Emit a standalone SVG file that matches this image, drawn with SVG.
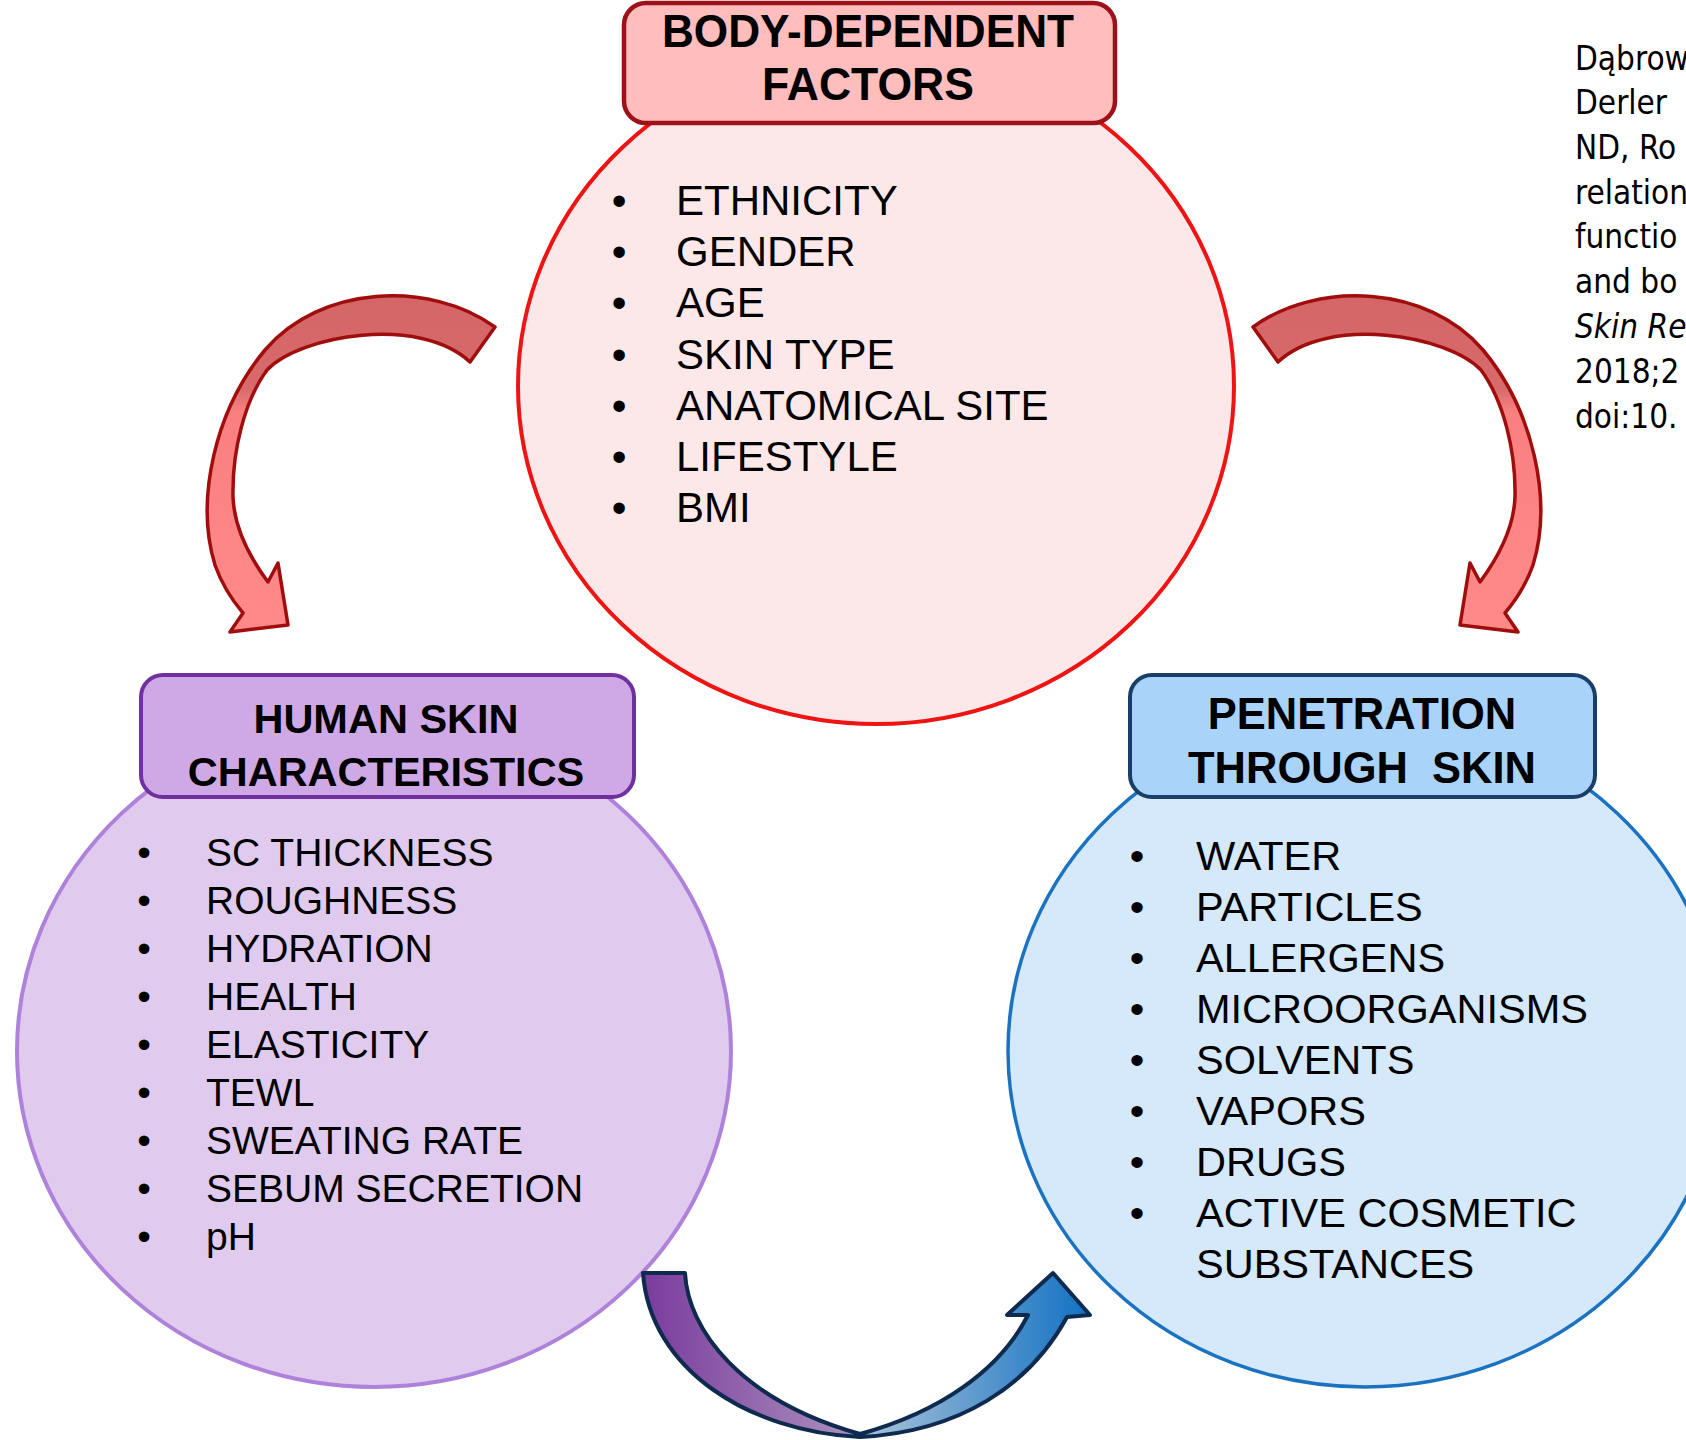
<svg xmlns="http://www.w3.org/2000/svg" width="1686" height="1440" viewBox="0 0 1686 1440">
<style>
.hdr{font-family:"Liberation Sans",Arial,sans-serif;font-weight:bold;fill:#000;text-anchor:middle}
.item{font-family:"Liberation Sans",Arial,sans-serif;fill:#000}
.bul{font-family:"Liberation Sans",Arial,sans-serif;fill:#000;text-anchor:middle}
.cite{font-family:"DejaVu Sans Condensed","DejaVu Sans",sans-serif;font-size:33px;fill:#000}
.redarrow{fill:url(#gRed);stroke:#a00d0d;stroke-width:3.5;stroke-linejoin:round}
</style>
<defs>
<linearGradient id="gRed" gradientUnits="userSpaceOnUse" x1="0" y1="300" x2="0" y2="640">
<stop offset="0" stop-color="#d56667"/>
<stop offset="0.26" stop-color="#d86a6b"/>
<stop offset="0.33" stop-color="#fa8080"/>
<stop offset="1" stop-color="#ff8a8a"/>
</linearGradient>
<linearGradient id="gBottom" gradientUnits="userSpaceOnUse" x1="643" y1="0" x2="1090" y2="0">
<stop offset="0" stop-color="#7a3b9d"/>
<stop offset="0.45" stop-color="#a88dbb"/>
<stop offset="0.52" stop-color="#a3bed6"/>
<stop offset="1" stop-color="#1171c3"/>
</linearGradient>
</defs>
<rect width="1686" height="1440" fill="#fff"/>

<g id="body-dependent">
<ellipse cx="876" cy="386" rx="358" ry="338" fill="#fde8e9" stroke="#ee1414" stroke-width="4"/>
<rect x="624" y="3" width="491" height="120" rx="22" fill="#ffbdbd" stroke="#9c1218" stroke-width="4.5"/>
<text class="hdr" x="868" y="47" font-size="47" textLength="412" lengthAdjust="spacingAndGlyphs">BODY-DEPENDENT</text>
<text class="hdr" x="868" y="100" font-size="47" textLength="212" lengthAdjust="spacingAndGlyphs">FACTORS</text>
<g font-size="42">
<text class="bul" x="619" y="215">•</text><text class="item" x="676" y="215">ETHNICITY</text>
<text class="bul" x="619" y="266">•</text><text class="item" x="676" y="266">GENDER</text>
<text class="bul" x="619" y="317">•</text><text class="item" x="676" y="317">AGE</text>
<text class="bul" x="619" y="369">•</text><text class="item" x="676" y="369">SKIN TYPE</text>
<text class="bul" x="619" y="420">•</text><text class="item" x="676" y="420">ANATOMICAL SITE</text>
<text class="bul" x="619" y="471">•</text><text class="item" x="676" y="471">LIFESTYLE</text>
<text class="bul" x="619" y="522">•</text><text class="item" x="676" y="522">BMI</text>
</g>
</g>

<g id="human-skin">
<ellipse cx="374" cy="1051" rx="357" ry="336" fill="#e0cbef" stroke="#ae82da" stroke-width="4"/>
<rect x="141" y="675" width="493" height="122" rx="22" fill="#cfa9e5" stroke="#7030a0" stroke-width="4"/>
<text class="hdr" x="386" y="733" font-size="41.5">HUMAN SKIN</text>
<text class="hdr" x="386" y="786" font-size="41.5">CHARACTERISTICS</text>
<g font-size="39">
<text class="bul" x="144" y="866">•</text><text class="item" x="206" y="866">SC THICKNESS</text>
<text class="bul" x="144" y="914">•</text><text class="item" x="206" y="914">ROUGHNESS</text>
<text class="bul" x="144" y="962">•</text><text class="item" x="206" y="962">HYDRATION</text>
<text class="bul" x="144" y="1010">•</text><text class="item" x="206" y="1010">HEALTH</text>
<text class="bul" x="144" y="1058">•</text><text class="item" x="206" y="1058">ELASTICITY</text>
<text class="bul" x="144" y="1106">•</text><text class="item" x="206" y="1106">TEWL</text>
<text class="bul" x="144" y="1154">•</text><text class="item" x="206" y="1154">SWEATING RATE</text>
<text class="bul" x="144" y="1202">•</text><text class="item" x="206" y="1202">SEBUM SECRETION</text>
<text class="bul" x="144" y="1250">•</text><text class="item" x="206" y="1250">pH</text>
</g>
</g>

<g id="penetration">
<ellipse cx="1365" cy="1051" rx="357" ry="336" fill="#d5e9fb" stroke="#1a72c0" stroke-width="3.5"/>
<rect x="1130" y="675" width="465" height="122" rx="22" fill="#aad3fa" stroke="#193e69" stroke-width="4"/>
<text class="hdr" x="1362" y="729" font-size="43.5">PENETRATION</text>
<text class="hdr" x="1362" y="783" font-size="43.5" xml:space="preserve">THROUGH  SKIN</text>
<g font-size="41.5">
<text class="bul" x="1137" y="870">•</text><text class="item" x="1196" y="870">WATER</text>
<text class="bul" x="1137" y="921">•</text><text class="item" x="1196" y="921">PARTICLES</text>
<text class="bul" x="1137" y="972">•</text><text class="item" x="1196" y="972">ALLERGENS</text>
<text class="bul" x="1137" y="1023">•</text><text class="item" x="1196" y="1023">MICROORGANISMS</text>
<text class="bul" x="1137" y="1074">•</text><text class="item" x="1196" y="1074">SOLVENTS</text>
<text class="bul" x="1137" y="1125">•</text><text class="item" x="1196" y="1125">VAPORS</text>
<text class="bul" x="1137" y="1176">•</text><text class="item" x="1196" y="1176">DRUGS</text>
<text class="bul" x="1137" y="1227">•</text><text class="item" x="1196" y="1227">ACTIVE COSMETIC</text>
<text class="item" x="1196" y="1278">SUBSTANCES</text>
</g>
</g>

<g id="citation">
<text class="cite" x="1575" y="70">Dąbrow</text>
<text class="cite" x="1575" y="114">Derler</text>
<text class="cite" x="1575" y="159">ND, Ro</text>
<text class="cite" x="1575" y="204">relation</text>
<text class="cite" x="1575" y="248">functio</text>
<text class="cite" x="1575" y="293">and bo</text>
<text class="cite" x="1575" y="338" font-style="italic">Skin Re</text>
<text class="cite" x="1575" y="383">2018;2</text>
<text class="cite" x="1575" y="428">doi:10.</text>
</g>

<g id="connectors">
<path id="arrow-left" class="redarrow" d="M495,327 C430,280 320,285 265,350 C215,410 195,500 215,565 C222,585 232,600 243,613 L230,632 L288,625 L278,563 L268,582 C248,555 234,525 233,497 C232,450 245,400 267,370 C300,335 420,315 470,362 Z"/>
<path id="arrow-right" class="redarrow" transform="translate(1748,0) scale(-1,1)" d="M495,327 C430,280 320,285 265,350 C215,410 195,500 215,565 C222,585 232,600 243,613 L230,632 L288,625 L278,563 L268,582 C248,555 234,525 233,497 C232,450 245,400 267,370 C300,335 420,315 470,362 Z"/>
<path id="arrow-bottom" fill="url(#gBottom)" stroke="#0e2a4f" stroke-width="4" stroke-linejoin="round" d="M643,1273 L685,1273 C688,1330 740,1400 860,1434 C940,1412 1000,1370 1028,1315 L1007,1315 L1053,1273 L1090,1315 L1067,1317 C1030,1385 960,1432 860,1437 C750,1432 650,1370 643,1273 Z"/>
</g>
</svg>
